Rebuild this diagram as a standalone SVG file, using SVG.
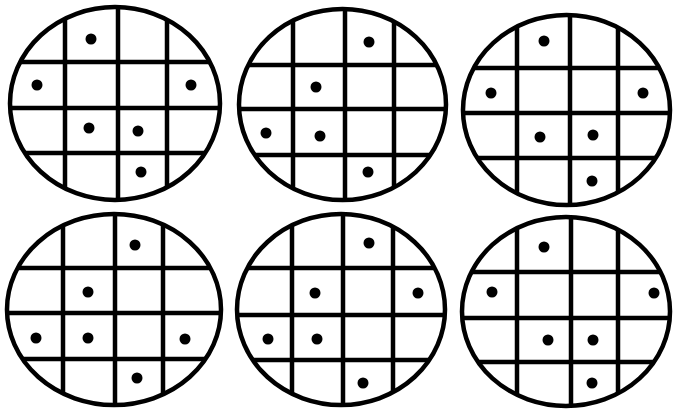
<svg xmlns="http://www.w3.org/2000/svg" width="673" height="410" viewBox="0 0 673 410">
<style>
.e{fill:none;stroke:#000;stroke-width:4.5}
.g{stroke:#000;stroke-width:4.5;fill:none}
.d{fill:#000}
</style>
<defs>
<clipPath id="c1"><ellipse cx="115" cy="103.5" rx="105" ry="96.5"/></clipPath>
<clipPath id="c2"><ellipse cx="342.5" cy="104.5" rx="103.5" ry="95.5"/></clipPath>
<clipPath id="c3"><ellipse cx="566.5" cy="110" rx="103.5" ry="95"/></clipPath>
<clipPath id="c4"><ellipse cx="114" cy="309.5" rx="107" ry="95.5"/></clipPath>
<clipPath id="c5"><ellipse cx="341" cy="309.5" rx="104" ry="95.5"/></clipPath>
<clipPath id="c6"><ellipse cx="566" cy="311.5" rx="104" ry="94.5"/></clipPath>
</defs>
<rect width="673" height="410" fill="#fff"/>
<g id="wafer1">
<path class="g" clip-path="url(#c1)" d="M65,0V210M118,0V210M167,0V210M0,62H230M0,108H230M0,153H230"/>
<ellipse class="e" cx="115" cy="103.5" rx="105" ry="96.5"/>
<circle class="d" cx="91" cy="39" r="5.5"/><circle class="d" cx="37" cy="85" r="5.5"/><circle class="d" cx="191" cy="85" r="5.5"/><circle class="d" cx="89" cy="128" r="5.5"/><circle class="d" cx="138" cy="131" r="5.5"/><circle class="d" cx="141" cy="172" r="5.5"/>
</g>
<g id="wafer2">
<path class="g" clip-path="url(#c2)" d="M293,0V210M345,0V210M394,0V210M230,65H460M230,109H460M230,155H460"/>
<ellipse class="e" cx="342.5" cy="104.5" rx="103.5" ry="95.5"/>
<circle class="d" cx="369" cy="42" r="5.5"/><circle class="d" cx="316" cy="87" r="5.5"/><circle class="d" cx="266" cy="133" r="5.5"/><circle class="d" cx="320" cy="136" r="5.5"/><circle class="d" cx="368" cy="172" r="5.5"/>
</g>
<g id="wafer3">
<path class="g" clip-path="url(#c3)" d="M517,0V210M570,0V210M618,0V210M455,68H673M455,113H673M455,158H673"/>
<ellipse class="e" cx="566.5" cy="110" rx="103.5" ry="95"/>
<circle class="d" cx="544" cy="41" r="5.5"/><circle class="d" cx="491" cy="93" r="5.5"/><circle class="d" cx="643" cy="93" r="5.5"/><circle class="d" cx="540" cy="137" r="5.5"/><circle class="d" cx="593" cy="135" r="5.5"/><circle class="d" cx="592" cy="181" r="5.5"/>
</g>
<g id="wafer4">
<path class="g" clip-path="url(#c4)" d="M63,205V410M115,205V410M163,205V410M0,268H230M0,313H230M0,359H230"/>
<ellipse class="e" cx="114" cy="309.5" rx="107" ry="95.5"/>
<circle class="d" cx="135" cy="245" r="5.5"/><circle class="d" cx="88" cy="292" r="5.5"/><circle class="d" cx="36" cy="338" r="5.5"/><circle class="d" cx="88" cy="338" r="5.5"/><circle class="d" cx="185" cy="339" r="5.5"/><circle class="d" cx="137" cy="378" r="5.5"/>
</g>
<g id="wafer5">
<path class="g" clip-path="url(#c5)" d="M292,205V410M343,205V410M393,205V410M230,268H460M230,315H460M230,360H460"/>
<ellipse class="e" cx="341" cy="309.5" rx="104" ry="95.5"/>
<circle class="d" cx="369" cy="243" r="5.5"/><circle class="d" cx="315" cy="293" r="5.5"/><circle class="d" cx="418" cy="293" r="5.5"/><circle class="d" cx="268" cy="339" r="5.5"/><circle class="d" cx="317" cy="339" r="5.5"/><circle class="d" cx="363" cy="383" r="5.5"/>
</g>
<g id="wafer6">
<path class="g" clip-path="url(#c6)" d="M517,205V410M571,205V410M618,205V410M455,272H673M455,318H673M455,362H673"/>
<ellipse class="e" cx="566" cy="311.5" rx="104" ry="94.5"/>
<circle class="d" cx="544" cy="247" r="5.5"/><circle class="d" cx="492" cy="292" r="5.5"/><circle class="d" cx="654" cy="293" r="5.5"/><circle class="d" cx="548" cy="340" r="5.5"/><circle class="d" cx="593" cy="340" r="5.5"/><circle class="d" cx="592" cy="383" r="5.5"/>
</g>
<g id="connectors"/>
</svg>
